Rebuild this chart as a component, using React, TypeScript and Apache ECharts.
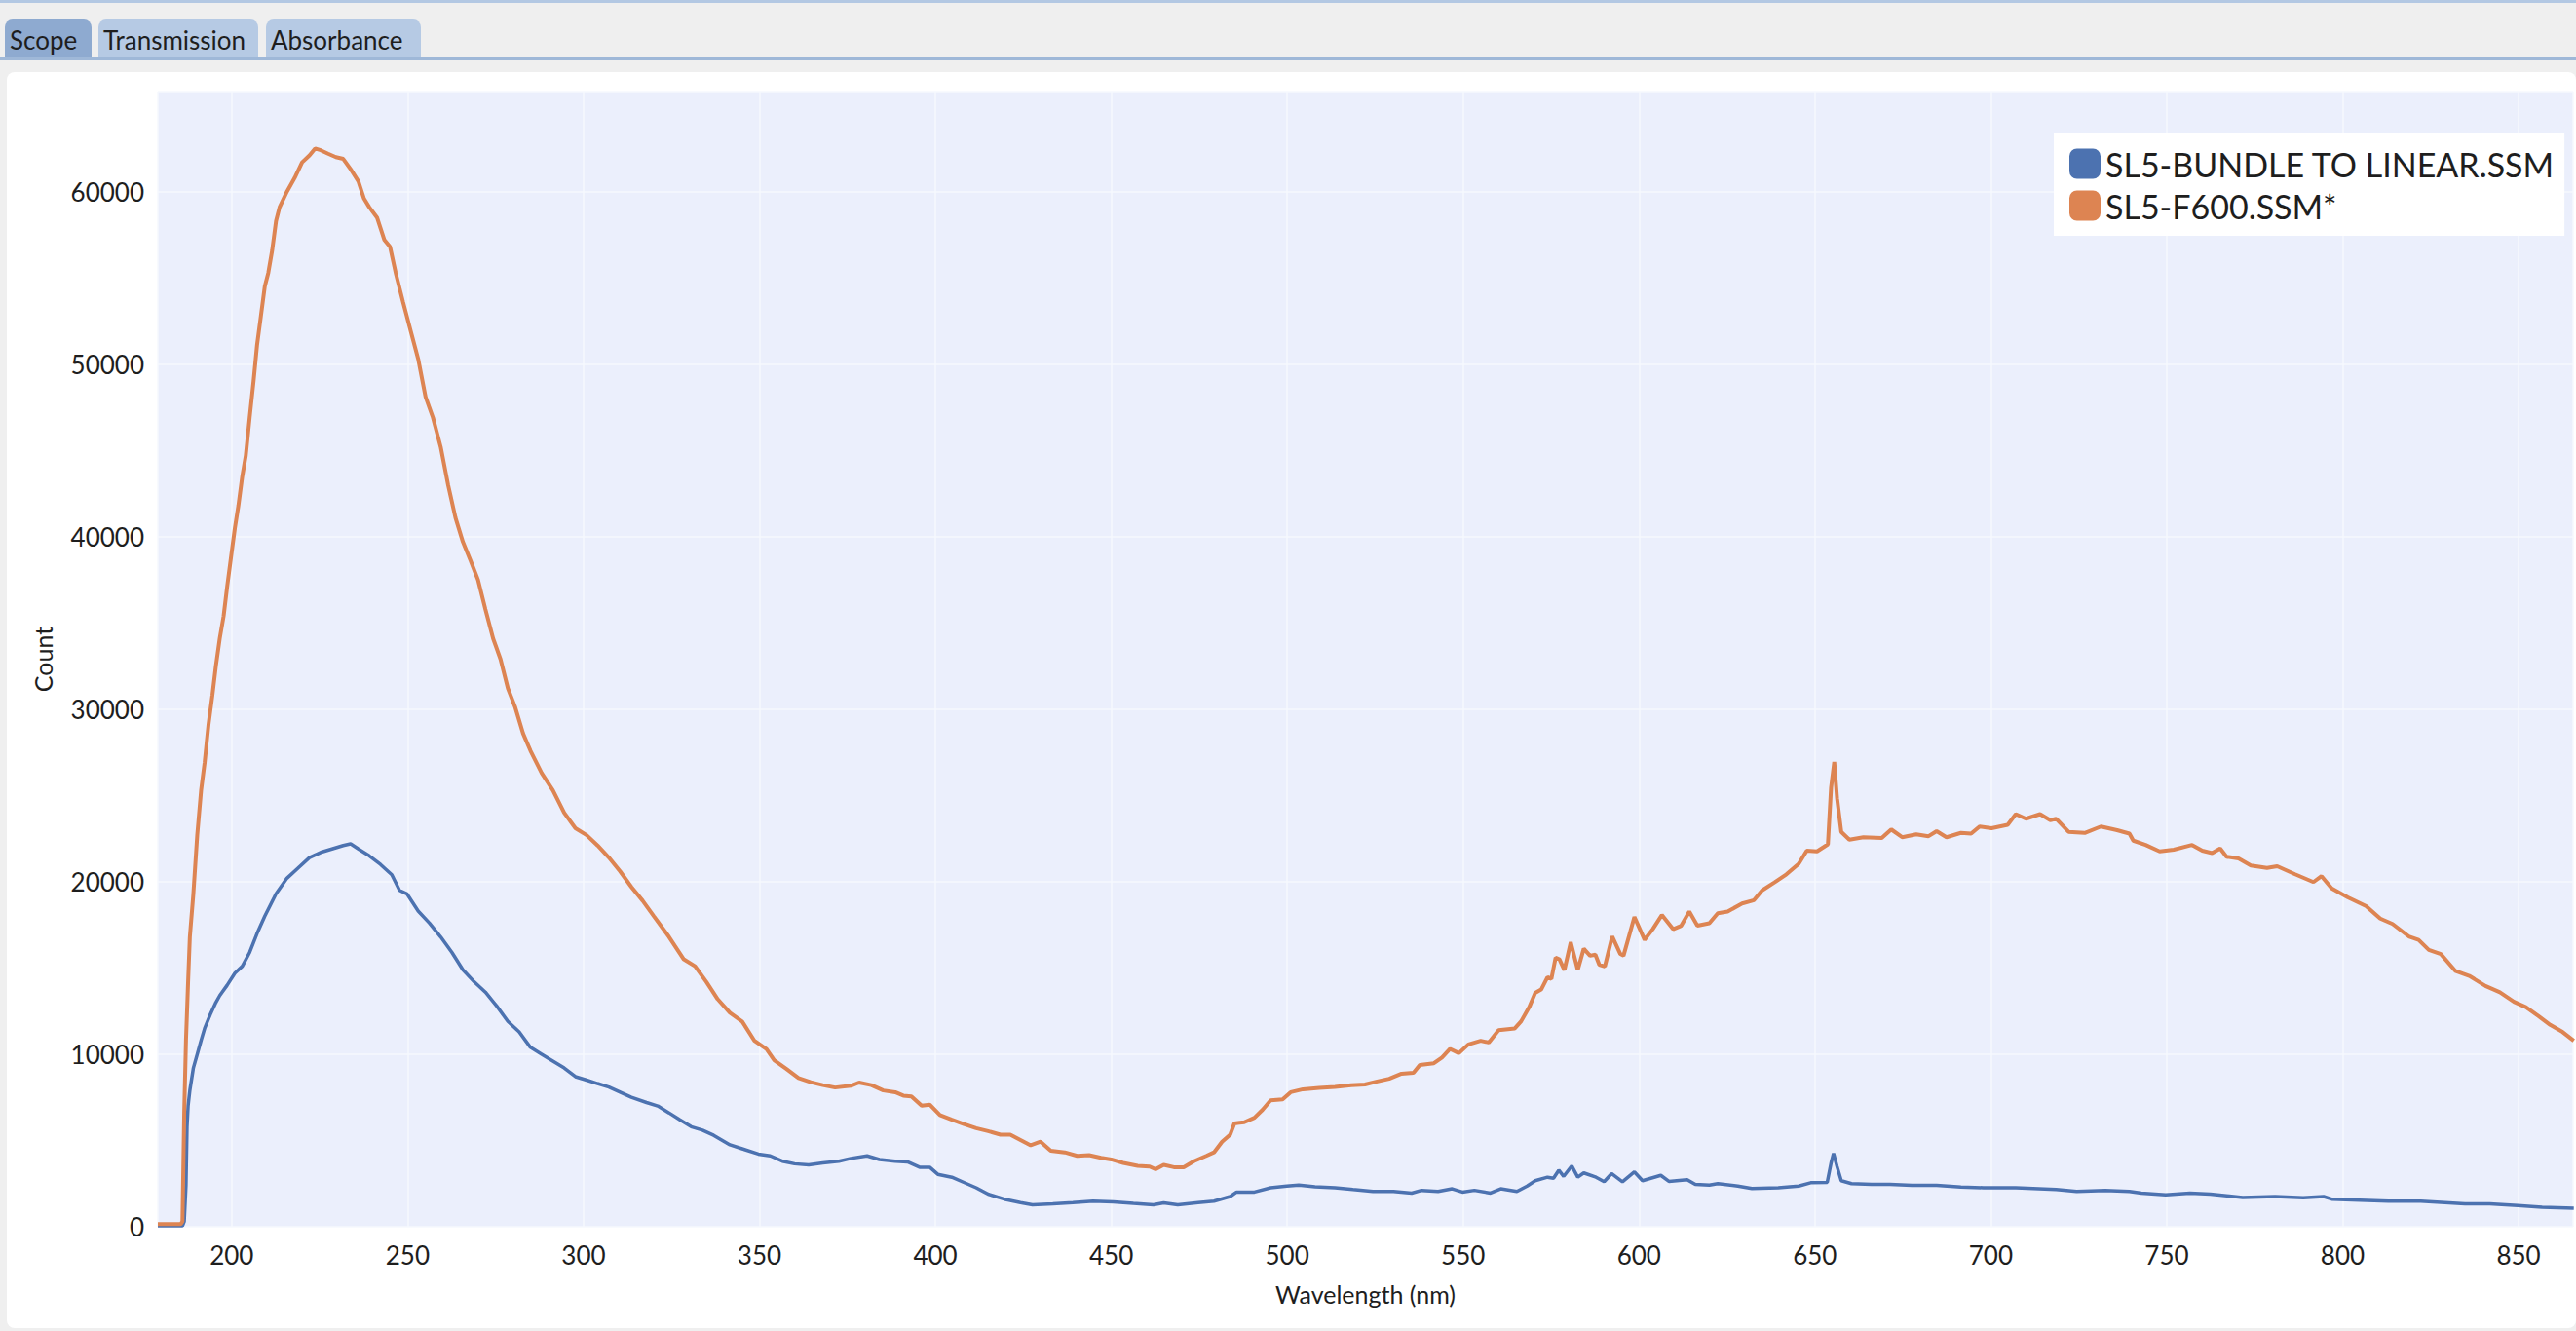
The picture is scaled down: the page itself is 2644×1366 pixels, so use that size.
import React, { useEffect, useRef } from "react";
import * as echarts from "echarts";

// ---------- DATA ----------
const seriesNames = ["SL5-BUNDLE TO LINEAR.SSM", "SL5-F600.SSM*"];
const tabLabels = ["Scope", "Transmission", "Absorbance"];

const blueWavelength = [
  179, 186.0, 186.5, 187.0, 187.3, 187.6, 188.1, 189.1, 190.2, 191.3, 192.3, 193.9, 195.5, 196.6, 198.7,
  200.9, 203.0, 205.1, 207.2, 209.4, 212.6, 215.7, 218.9, 222.1, 225.3, 228.5, 231.7, 233.8, 236.0, 239.1,
  242.3, 245.5, 247.7, 249.8, 253.0, 256.2, 259.4, 262.6, 265.7, 268.9, 272.1, 275.3, 278.5, 281.7, 284.9,
  288.1, 291.3, 294.5, 297.7, 300.9, 304.0, 307.2, 310.4, 313.6, 317.9, 321.1, 324.3, 327.4, 330.6, 333.8,
  337.0, 341.6, 345.1, 349.7, 353.1, 356.5, 360.0, 364.0, 368.0, 372.6, 376.0, 380.6, 384.1, 388.6, 392.1,
  395.5, 398.4, 400.7, 404.7, 408.1, 411.6, 415.0, 419.6, 424.2, 427.6, 433.4, 439.1, 444.8, 450.6, 456.3,
  462.0, 464.9, 468.9, 474.7, 479.2, 483.8, 485.6, 490.7, 495.3, 499.9, 503.3, 507.9, 513.6, 518.7, 524.4,
  530.2, 535.4, 538.2, 542.9, 546.9, 549.8, 553.2, 557.8, 560.7, 565.3, 568.2, 570.5, 574.0, 575.7, 577.2,
  578.6, 580.9, 582.6, 584.3, 587.8, 590.1, 592.2, 595.3, 598.7, 601.0, 606.2, 608.5, 613.7, 616.0, 620.0,
  622.4, 628.1, 632.1, 639.6, 645.4, 648.8, 653.5, 654.6, 655.3, 656.3, 657.5, 660.4, 666.1, 671.3, 677.6,
  684.6, 691.5, 697.9, 707.1, 718.6, 724.4, 732.5, 739.4, 742.8, 749.7, 756.6, 762.4, 771.6, 780.8, 788.8,
  794.6, 796.9, 804.9, 813.0, 822.2, 829.1, 834.8, 841.8, 849.8, 856.7, 865.7,
];
const blueCount = [
  50, 50, 300, 2400, 5800, 7000, 7900, 9200, 10000, 10800, 11500, 12300, 13000, 13400, 14000,
  14700, 15100, 15900, 17000, 18000, 19300, 20200, 20800, 21400, 21700, 21900, 22100, 22200, 21900, 21500,
  21000, 20400, 19500, 19300, 18300, 17600, 16800, 15900, 14900, 14200, 13600, 12800, 11900, 11300, 10400,
  10000, 9600, 9200, 8700, 8500, 8300, 8100, 7800, 7500, 7200, 7000, 6600, 6200, 5800, 5600,
  5300, 4750, 4520, 4210, 4110, 3800, 3650, 3590, 3700, 3800, 3960, 4110, 3900, 3800, 3760,
  3450, 3450, 3040, 2870, 2570, 2260, 1890, 1600, 1400, 1270, 1330, 1400, 1480, 1440, 1350,
  1270, 1380, 1270, 1400, 1480, 1750, 2010, 2010, 2260, 2360, 2420, 2320, 2260, 2160, 2050,
  2050, 1950, 2110, 2050, 2200, 2010, 2110, 1950, 2200, 2050, 2360, 2670, 2870, 2810, 3280,
  2920, 3530, 2870, 3120, 2870, 2610, 3080, 2610, 3180, 2670, 2980, 2630, 2730, 2460, 2420,
  2500, 2360, 2220, 2260, 2360, 2550, 2570, 3700, 4250, 3490, 2670, 2500, 2460, 2460, 2400,
  2400, 2300, 2260, 2260, 2160, 2050, 2110, 2050, 1950, 1850, 1950, 1890, 1700, 1750, 1680,
  1750, 1600, 1540, 1480, 1480, 1400, 1330, 1330, 1230, 1130, 1070,
];

const orangeWavelength = [
  179, 185.5, 186.0, 186.5, 187.0, 187.6, 188.1, 189.1, 190.2, 191.3, 192.3, 193.4, 194.5, 195.5, 196.6,
  197.7, 198.7, 199.8, 200.9, 201.9, 203.0, 204.0, 205.1, 206.2, 207.2, 208.3, 209.4, 210.4, 211.5, 212.6,
  213.6, 215.7, 217.9, 220.0, 222.1, 223.7, 225.3, 227.4, 229.6, 231.7, 233.8, 236.0, 237.6, 239.1, 241.3,
  243.4, 245.0, 246.6, 248.7, 250.9, 253.0, 255.1, 257.2, 259.4, 261.5, 263.6, 265.7, 267.9, 270.0, 272.1,
  274.3, 276.4, 278.5, 280.6, 282.8, 284.9, 288.1, 291.3, 294.5, 297.7, 300.9, 304.0, 307.2, 310.4, 313.6,
  316.8, 320.0, 324.3, 328.5, 331.7, 334.9, 338.1, 341.6, 345.1, 348.5, 352.0, 354.2, 357.7, 361.1, 364.6,
  368.0, 371.5, 376.0, 378.3, 381.8, 385.2, 388.6, 390.9, 393.2, 396.1, 398.4, 401.3, 404.7, 408.1, 411.6,
  415.0, 418.5, 421.3, 424.2, 427.1, 429.9, 432.8, 436.8, 440.3, 443.7, 447.1, 450.0, 453.4, 457.5, 460.9,
  462.6, 464.9, 467.8, 470.6, 473.5, 477.0, 479.2, 481.5, 483.8, 485.0, 487.8, 490.7, 493.0, 495.3, 498.7,
  501.0, 504.5, 509.1, 513.6, 518.2, 522.1, 525.6, 529.0, 532.5, 535.9, 537.7, 541.7, 544.0, 546.3, 548.8,
  551.5, 555.0, 557.3, 560.1, 564.7, 566.5, 568.8, 570.5, 572.2, 574.0, 575.1, 576.3, 577.4, 578.8, 580.6,
  582.6, 584.3, 586.1, 587.6, 588.7, 590.3, 592.4, 594.7, 595.6, 598.7, 601.6, 603.9, 606.5, 609.7, 612.0,
  614.3, 616.6, 620.0, 622.4, 625.2, 629.3, 632.7, 635.0, 638.5, 641.9, 645.4, 647.7, 650.6, 653.7, 654.6,
  655.5, 656.3, 657.5, 659.8, 663.8, 669.0, 671.7, 674.8, 678.8, 682.3, 684.6, 687.4, 691.5, 694.4, 696.8,
  700.2, 704.8, 707.1, 710.0, 714.0, 716.9, 718.6, 722.1, 726.7, 731.3, 735.9, 739.4, 740.5, 744.0, 748.0,
  752.0, 757.2, 760.1, 762.9, 765.2, 767.0, 770.4, 773.9, 778.5, 781.4, 786.5, 791.7, 794.0, 796.9, 801.5,
  806.7, 810.7, 814.2, 818.8, 821.6, 824.5, 827.9, 832.0, 836.0, 840.6, 844.7, 848.7, 852.1, 855.6, 859.0,
  862.5, 865.7,
];
const orangeCount = [
  150, 150, 300, 6600, 10800, 14200, 16800, 19300, 22700, 25300, 26900, 29100, 30800, 32500, 34100,
  35400, 37100, 38800, 40500, 41800, 43500, 44700, 46900, 49000, 51100, 52800, 54500, 55300, 56600, 58300,
  59100, 60000, 60800, 61700, 62100, 62500, 62400, 62200, 62000, 61900, 61300, 60600, 59600, 59100, 58500,
  57200, 56800, 55300, 53600, 51900, 50300, 48100, 46900, 45200, 43000, 41100, 39700, 38600, 37500, 35800,
  34100, 32900, 31200, 30100, 28600, 27600, 26300, 25300, 24000, 23100, 22700, 22100, 21400, 20600, 19700,
  18900, 18000, 16800, 15500, 15100, 14200, 13200, 12400, 11900, 10800, 10300, 9650, 9140, 8620, 8380,
  8210, 8070, 8170, 8360, 8210, 7900, 7800, 7600, 7560, 7020, 7080, 6470, 6200, 5950, 5710,
  5540, 5340, 5340, 5030, 4720, 4930, 4410, 4310, 4110, 4150, 4000, 3900, 3700, 3530, 3490,
  3330, 3590, 3450, 3450, 3800, 4110, 4310, 4930, 5340, 5990, 6060, 6320, 6780, 7330, 7390,
  7800, 7970, 8050, 8110, 8210, 8250, 8420, 8580, 8870, 8930, 9380, 9480, 9810, 10310, 10060,
  10570, 10780, 10680, 11390, 11500, 11910, 12730, 13550, 13750, 14470, 14370, 15600, 15500, 14880, 16490,
  14880, 16120, 15710, 15770, 15190, 15090, 16830, 15810, 15710, 17960, 16630, 17250, 18070, 17250, 17450,
  18270, 17450, 17590, 18170, 18270, 18740, 18930, 19500, 19960, 20430, 21040, 21800, 21760, 22170, 25460,
  26940, 24840, 22890, 22440, 22580, 22540, 23030, 22580, 22750, 22640, 22930, 22580, 22830, 22790, 23200,
  23100, 23300, 23920, 23650, 23920, 23570, 23650, 22890, 22830, 23200, 22990, 22790, 22380, 22130, 21760,
  21860, 22130, 21800, 21660, 21930, 21450, 21350, 20940, 20800, 20900, 20430, 19980, 20320, 19610, 19090,
  18580, 17860, 17550, 16830, 16630, 16050, 15810, 14840, 14540, 13960, 13590, 13040, 12730, 12220, 11700,
  11290, 10780,
];

const xRange = [179, 865.5];
const yRange = [0, 65800];
const yStep = 10000;

// ---------- STYLE ----------
const FONT = "Lato, 'Noto Sans', sans-serif";
const BLUE = "#4c72b0";
const ORANGE = "#dd8452";
const TEXT = "#1e1e1e";
const GRID = "#f6f8fe";

function Chart() {
  const ref = useRef<HTMLDivElement>(null);
  useEffect(() => {
    if (!ref.current) return;
    const chart = echarts.init(ref.current, undefined, { renderer: "svg" });
    const blueData = blueWavelength.map((w, i) => [w, blueCount[i]]);
    const orangeData = orangeWavelength.map((w, i) => [w, orangeCount[i]]);
    chart.setOption({
      animation: false,
      backgroundColor: "transparent",
      textStyle: { fontFamily: FONT },
      grid: {
        left: 155,
        top: 20,
        right: 3,
        bottom: 104,
        show: true,
        backgroundColor: "#ebeffc",
        borderWidth: 0,
      },
      legend: {
        orient: "vertical",
        left: 2101,
        top: 63,
        backgroundColor: "#ffffff",
        padding: [14, 10, 14, 16],
        itemWidth: 32,
        itemHeight: 31,
        itemGap: 9,
        icon: "roundRect",
        textStyle: { fontSize: 34, color: TEXT, fontFamily: FONT },
        data: seriesNames,
      },
      xAxis: {
        type: "value",
        min: xRange[0],
        max: xRange[1],
        splitNumber: 14,
        name: "Wavelength (nm)",
        nameLocation: "middle",
        nameGap: 56,
        nameTextStyle: { fontSize: 25, color: TEXT, fontFamily: FONT },
        axisLine: { show: false },
        axisTick: { show: false },
        splitLine: { show: true, lineStyle: { color: GRID, width: 1.5 } },
        axisLabel: {
          fontSize: 26,
          color: TEXT,
          fontFamily: FONT,
          margin: 16,
          showMinLabel: false,
          showMaxLabel: false,
          formatter: (v: number) => String(v),
        },
      },
      yAxis: {
        type: "value",
        min: yRange[0],
        max: yRange[1],
        interval: yStep,
        name: "Count",
        nameLocation: "middle",
        nameGap: 106,
        nameTextStyle: { fontSize: 25, color: TEXT, fontFamily: FONT },
        axisLine: { show: false },
        axisTick: { show: false },
        splitLine: { show: true, lineStyle: { color: GRID, width: 1.5 } },
        axisLabel: {
          fontSize: 26,
          color: TEXT,
          fontFamily: FONT,
          margin: 14,
          showMaxLabel: false,
          formatter: (v: number) => String(v),
        },
      },
      series: [
        {
          name: seriesNames[0],
          type: "line",
          data: blueData,
          showSymbol: false,
          symbol: "none",
          color: BLUE,
          itemStyle: { color: BLUE },
          lineStyle: { color: BLUE, width: 3.5 },
        },
        {
          name: seriesNames[1],
          type: "line",
          data: orangeData,
          showSymbol: false,
          symbol: "none",
          color: ORANGE,
          itemStyle: { color: ORANGE },
          lineStyle: { color: ORANGE, width: 4 },
        },
      ],
    });
    return () => chart.dispose();
  }, []);
  return <div ref={ref} style={{ position: "absolute", left: 0, top: 0, width: 2637, height: 1289 }} />;
}

const tabBoxes = [
  { left: 5, width: 89, active: true },
  { left: 101, width: 164, active: false },
  { left: 273, width: 159, active: false },
];

export default function App() {
  return (
    <div
      style={{
        position: "fixed",
        left: 0,
        top: 0,
        width: 2644,
        height: 1366,
        background: "#efefef",
        overflow: "hidden",
        fontFamily: FONT,
      }}
    >
      <div style={{ position: "absolute", left: 0, top: 0, width: 2644, height: 3, background: "#b3c8e3" }} />
      {tabLabels.map((t, i) => (
        <div
          key={t}
          style={{
            position: "absolute",
            left: tabBoxes[i].left,
            top: 20,
            width: tabBoxes[i].width,
            height: 40,
            background: tabBoxes[i].active ? "#8eaad0" : "#b6cae4",
            borderTopLeftRadius: 8,
            borderTopRightRadius: 8,
            boxSizing: "border-box",
            paddingLeft: 5,
            lineHeight: "42px",
            fontSize: 26,
            color: "#1e1e1e",
            whiteSpace: "nowrap",
          }}
        >
          {t}
        </div>
      ))}
      <div style={{ position: "absolute", left: 0, top: 59, width: 2644, height: 3, background: "#9fb8d8" }} />
      <div
        style={{
          position: "absolute",
          left: 7,
          top: 74,
          width: 2637,
          height: 1289,
          background: "#ffffff",
          borderRadius: 8,
          overflow: "hidden",
        }}
      >
        <Chart />
      </div>
    </div>
  );
}
